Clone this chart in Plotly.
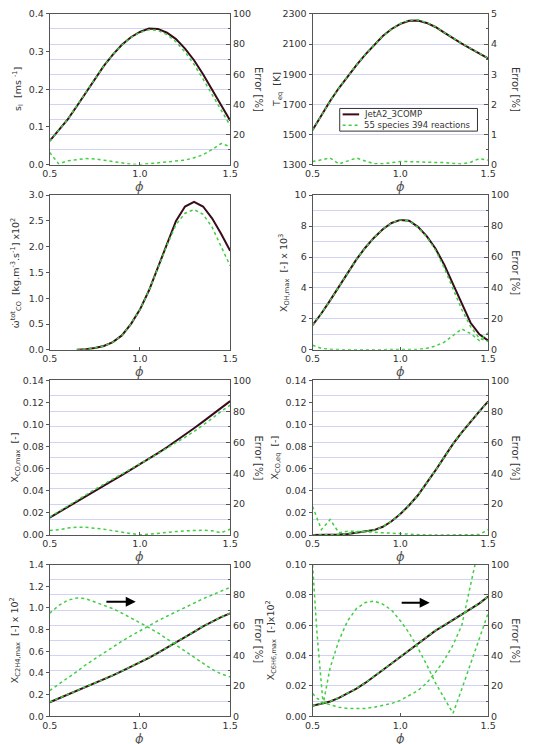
import plotly.graph_objects as go

# ---------------- data ----------------
phi = [0.50, 0.55, 0.60, 0.65, 0.70, 0.75, 0.80, 0.85, 0.90, 0.95, 1.00,
       1.05, 1.10, 1.15, 1.20, 1.25, 1.30, 1.35, 1.40, 1.45, 1.50]

# panel 1: laminar flame speed
sl_ref = [0.063, 0.090, 0.120, 0.155, 0.190, 0.228, 0.262, 0.292, 0.318, 0.338, 0.352,
          0.361, 0.360, 0.350, 0.333, 0.308, 0.277, 0.240, 0.200, 0.158, 0.117]
sl_red = [0.062, 0.090, 0.120, 0.156, 0.191, 0.228, 0.262, 0.292, 0.317, 0.337, 0.351,
          0.358, 0.356, 0.345, 0.326, 0.299, 0.266, 0.227, 0.186, 0.143, 0.104]
sl_err = [8.0, 0.5, 2.5, 3.5, 4.0, 3.8, 3.0, 2.0, 1.0, 0.3, 0.0,
          0.5, 1.0, 1.5, 2.0, 3.0, 4.5, 6.5, 10.0, 14.0, 12.0]

# panel 2: equilibrium temperature
teq_ref = [1529, 1628, 1722, 1808, 1887, 1960, 2030, 2095, 2153, 2200, 2234,
           2254, 2256, 2240, 2213, 2176, 2138, 2103, 2070, 2038, 2005]
teq_red = [1529, 1628, 1722, 1808, 1887, 1960, 2030, 2095, 2153, 2201, 2236,
           2258, 2260, 2243, 2214, 2177, 2139, 2104, 2071, 2039, 2006]
teq_err = [0.10, 0.15, 0.22, 0.02, 0.12, 0.22, 0.12, 0.03, 0.03, 0.06, 0.10,
           0.10, 0.10, 0.08, 0.07, 0.07, 0.04, 0.02, 0.08, 0.20, 0.15]

# panel 3: CO source term
wco_ref = [None, None, None, 0.0, 0.01, 0.035, 0.075, 0.15, 0.28, 0.50, 0.78,
           1.15, 1.60, 2.05, 2.50, 2.78, 2.87, 2.78, 2.55, 2.25, 1.92]
wco_red = [None, None, None, 0.0, 0.01, 0.035, 0.075, 0.15, 0.28, 0.50, 0.78,
           1.15, 1.60, 2.03, 2.43, 2.65, 2.72, 2.63, 2.38, 2.02, 1.63]

# panel 4: OH max
oh_ref = [1.60, 2.35, 3.20, 4.10, 5.00, 5.85, 6.60, 7.25, 7.80, 8.20, 8.40,
          8.35, 7.95, 7.35, 6.55, 5.50, 4.25, 2.95, 1.75, 1.00, 0.60]
oh_red = [1.60, 2.35, 3.20, 4.10, 5.00, 5.85, 6.60, 7.25, 7.80, 8.20, 8.40,
          8.33, 7.92, 7.30, 6.45, 5.30, 3.95, 2.60, 1.50, 0.75, 0.55]
oh_err = [3.0, 1.0, 0.3, 0.0, 0.0, 0.0, 0.0, 0.0, 0.0, 0.0, 0.0,
          0.0, 0.3, 1.0, 2.5, 5.0, 9.0, 13.5, 10.5, 6.0, 11.0]

# panel 5: CO max
comax_ref = [0.0158, 0.0205, 0.0253, 0.0302, 0.0350, 0.0398, 0.0447, 0.0494, 0.0542, 0.0590, 0.0640,
             0.0690, 0.0742, 0.0795, 0.0850, 0.0908, 0.0967, 0.1027, 0.1088, 0.1150, 0.1212]
comax_red = [0.0163, 0.0214, 0.0265, 0.0315, 0.0365, 0.0413, 0.0460, 0.0505, 0.0552, 0.0595, 0.0640,
             0.0688, 0.0737, 0.0788, 0.0835, 0.0885, 0.0938, 0.0995, 0.1055, 0.1120, 0.1175]
comax_err = [3.0, 3.5, 4.5, 5.0, 5.0, 4.6, 3.8, 2.8, 1.8, 0.8, 0.1,
             0.5, 1.2, 1.8, 2.3, 2.7, 3.0, 3.1, 2.8, 1.5, 3.8]

# panel 6: CO equilibrium
coeq_ref = [0.0, 0.0, 0.0002, 0.0005, 0.0010, 0.0020, 0.0030, 0.0045, 0.0075, 0.0125, 0.0190,
            0.0270, 0.0360, 0.0470, 0.0585, 0.0705, 0.0825, 0.0930, 0.1030, 0.1120, 0.1210]
coeq_red = [0.0, 0.0, 0.0002, 0.0005, 0.0010, 0.0020, 0.0030, 0.0045, 0.0075, 0.0125, 0.0190,
            0.0270, 0.0360, 0.0470, 0.0585, 0.0705, 0.0825, 0.0930, 0.1030, 0.1120, 0.1205]
coeq_err = [18.5, 3.5, 10.0, 1.5, 2.5, 2.5, 2.2, 1.8, 1.5, 1.2, 0.8,
            0.4, 0.1, 0.0, 0.0, 0.0, 0.0, 0.0, 0.0, 0.3, 3.5]

# panel 7: C2H4 max
c2h4_ref = [0.130, 0.165, 0.198, 0.232, 0.267, 0.303, 0.340, 0.378, 0.417, 0.457, 0.498,
            0.540, 0.585, 0.632, 0.680, 0.730, 0.780, 0.830, 0.875, 0.915, 0.950]
c2h4_red = [0.131, 0.166, 0.199, 0.233, 0.268, 0.304, 0.341, 0.379, 0.418, 0.458, 0.499,
            0.541, 0.586, 0.633, 0.681, 0.731, 0.781, 0.831, 0.876, 0.916, 0.951]
c2h4_err_a = [17.0, 21.0, 25.0, 29.5, 34.0, 38.0, 42.0, 46.0, 49.5, 53.0, 56.5,
              60.0, 63.0, 66.0, 69.0, 72.0, 75.0, 77.5, 80.0, 82.5, 85.0]
c2h4_err_b = [68.0, 73.0, 76.5, 78.0, 77.5, 75.5, 73.5, 71.0, 68.0, 65.0, 62.0,
              58.5, 55.0, 51.0, 47.0, 43.0, 39.0, 35.0, 31.0, 28.0, 26.0]

# panel 8: C6H6 max
c6h6_ref = [0.0070, 0.0083, 0.0098, 0.0122, 0.0150, 0.0183, 0.0220, 0.0260, 0.0305, 0.0348, 0.0392,
            0.0438, 0.0480, 0.0525, 0.0565, 0.0600, 0.0635, 0.0670, 0.0705, 0.0745, 0.0790]
c6h6_red = [0.0071, 0.0084, 0.0099, 0.0123, 0.0151, 0.0184, 0.0221, 0.0261, 0.0306, 0.0349, 0.0393,
            0.0439, 0.0481, 0.0526, 0.0566, 0.0601, 0.0636, 0.0671, 0.0706, 0.0746, 0.0791]
phi_c6h6_err = [0.50, 0.525, 0.56, 0.60, 0.65, 0.70, 0.75, 0.80, 0.85, 0.90, 0.95, 1.00,
                1.05, 1.10, 1.15, 1.20, 1.25, 1.30, 1.35, 1.40, 1.45, 1.50]
c6h6_err_a = [100.0, 55.0, 8.0, 32.0, 50.0, 63.0, 71.0, 75.0, 76.0, 74.0, 70.0, 63.0,
              55.0, 45.0, 34.0, 22.0, 12.0, 2.0, 18.0, 35.0, 52.0, 68.0]
c6h6_err_b = [15.0, 12.0, 9.0, 7.5, 6.0, 5.2, 5.0, 5.2, 6.0, 7.0, 8.5, 10.5,
              13.5, 17.0, 22.0, 29.0, 37.0, 47.0, 60.0, 86.0, 112.0, 140.0]

legend_labels = ["JetA2_3COMP", "55 species 394 reactions"]

# ---------------- styling / layout ----------------
W, H = 533, 744
FONT = "DejaVu Sans"
DARK = "#3a0b1b"
GREEN = "#3fcf3f"
GRID = "#d2d2f2"
AXC = "#555555"
TXT = "#333333"

COLS = [(43, 229), (314, 495)]
ROWS = [(8, 161), (192, 349), (380, 537), (567, 721)]


def xdom(c):
    a, b = COLS[c]
    return [a / W, b / W]


def ydom(r):
    t, b = ROWS[r]
    return [1 - b / H, 1 - t / H]


def px(xp):
    return xp / W


def py(yp):
    return 1 - yp / H


panels = [
    dict(r=0, c=0, yr=[0, 0.4], dt=0.1, t0=0, fmt=".1f", right=[0, 100], rdt=20, rminor=10,
         title="s<sub>l</sub>  [ms <sup>-1</sup>]", tx=11,
         ref=(phi, sl_ref), red=[(phi, sl_red)], err=[(phi, sl_err)]),
    dict(r=0, c=1, yr=[1300, 2300], dt=200, t0=1300, fmt="d", right=[0, 5], rdt=1, rminor=0.5,
         title="T<sub>eq</sub>  [K]", tx=278,
         ref=(phi, teq_ref), red=[(phi, teq_red)], err=[(phi, teq_err)]),
    dict(r=1, c=0, yr=[0, 3.0], dt=0.5, t0=0, fmt=".1f", right=None,
         title="ω̇<sup>tot</sup><sub>CO</sub>  [kg.m<sup>-3</sup>.s<sup>-1</sup>] x10<sup>2</sup>", tx=8,
         ref=(phi, wco_ref), red=[(phi, wco_red)], err=[]),
    dict(r=1, c=1, yr=[0, 10], dt=2, t0=0, fmt="d", right=[0, 100], rdt=20, rminor=10,
         title="X<sub>OH,max</sub>  [-] x 10<sup>3</sup>", tx=284,
         ref=(phi, oh_ref), red=[(phi, oh_red)], err=[(phi, oh_err)]),
    dict(r=2, c=0, yr=[0, 0.14], dt=0.02, t0=0, fmt=".2f", right=[0, 100], rdt=20, rminor=10,
         title="X<sub>CO,max</sub>  [-]", tx=8,
         ref=(phi, comax_ref), red=[(phi, comax_red)], err=[(phi, comax_err)]),
    dict(r=2, c=1, yr=[0, 0.14], dt=0.02, t0=0, fmt=".2f", right=[0, 100], rdt=20, rminor=10,
         title="X<sub>CO,eq</sub>  [-]", tx=276,
         ref=(phi, coeq_ref), red=[(phi, coeq_red)], err=[(phi, coeq_err)]),
    dict(r=3, c=0, yr=[0, 1.4], dt=0.2, t0=0, fmt=".1f", right=[0, 100], rdt=20, rminor=10,
         title="X<sub>C2H4,max</sub>  [-] x 10<sup>2</sup>", tx=8,
         ref=(phi, c2h4_ref), red=[(phi, c2h4_red)],
         err=[(phi, c2h4_err_a), (phi, c2h4_err_b)]),
    dict(r=3, c=1, yr=[0, 0.10], dt=0.02, t0=0, fmt=".2f", right=[0, 100], rdt=20, rminor=10,
         title="X<sub>C6H6,max</sub>  [-]x10<sup>2</sup>", tx=272,
         ref=(phi, c6h6_ref), red=[(phi, c6h6_red)],
         err=[(phi_c6h6_err, c6h6_err_a), (phi_c6h6_err, c6h6_err_b)]),
]

fig = go.Figure()
layout = {}
annotations = []
shapes = []

for i, p in enumerate(panels, start=1):
    xs = "" if i == 1 else str(i)
    xname, yname = "x" + xs, "y" + xs
    ry = 8 + i
    rname = "y" + str(ry)
    tick_font = dict(family=FONT, size=9.5, color=TXT)

    layout["xaxis" + xs] = dict(
        domain=xdom(p["c"]), anchor=yname, range=[0.5, 1.5],
        tickvals=[0.5, 1.0, 1.5], tickformat=".1f", ticks="inside", ticklen=3,
        tickcolor=AXC, showline=True, linecolor=AXC, linewidth=1, mirror=True,
        showgrid=False, zeroline=False, tickfont=tick_font, fixedrange=True,
    )
    layout["yaxis" + xs] = dict(
        domain=ydom(p["r"]), anchor=xname, range=p["yr"], tick0=p["t0"], dtick=p["dt"],
        tickformat=p["fmt"], ticks="outside", ticklen=3, tickcolor=AXC,
        showline=True, linecolor=AXC, linewidth=1, mirror=True,
        showgrid=False, zeroline=False, tickfont=tick_font, fixedrange=True,
    )

    mid_y = py((ROWS[p["r"]][0] + ROWS[p["r"]][1]) / 2)

    if p["right"] is not None:
        layout["yaxis" + str(ry)] = dict(
            overlaying=yname, anchor=xname, side="right", range=p["right"], dtick=p["rdt"],
            tick0=0, ticks="inside", ticklen=4, tickcolor=AXC, showline=True, linecolor=AXC,
            linewidth=1, showgrid=True, gridcolor=GRID, gridwidth=1, zeroline=False,
            tickfont=tick_font, fixedrange=True,
            minor=dict(dtick=p["rminor"], ticks="inside", ticklen=2, tickcolor=AXC,
                       showgrid=(p["rminor"] == 10), gridcolor=GRID, gridwidth=1),
        )
        for ex, ey in p["err"]:
            fig.add_trace(go.Scatter(x=ex, y=ey, xaxis=xname, yaxis=rname, mode="lines",
                                     line=dict(color=GREEN, width=1.5, dash="dot"),
                                     showlegend=False, hoverinfo="skip"))
        annotations.append(dict(
            text="Error [%]", xref="paper", yref="paper",
            x=px(258 if p["c"] == 0 else 523), y=mid_y,
            textangle=90, showarrow=False, xanchor="center", yanchor="middle",
            font=dict(family=FONT, size=10, color=TXT)))

    fig.add_trace(go.Scatter(x=p["ref"][0], y=p["ref"][1], xaxis=xname, yaxis=yname,
                             mode="lines", line=dict(color=DARK, width=2),
                             name=legend_labels[0], showlegend=False, hoverinfo="skip"))
    for rx, rv in p["red"]:
        fig.add_trace(go.Scatter(x=rx, y=rv, xaxis=xname, yaxis=yname, mode="lines",
                                 line=dict(color=GREEN, width=1.5, dash="dot"),
                                 name=legend_labels[1], showlegend=False,
                                 hoverinfo="skip"))

    # left axis title
    annotations.append(dict(
        text=p["title"], xref="paper", yref="paper", x=px(p["tx"]), y=mid_y,
        textangle=-90, showarrow=False, xanchor="center", yanchor="middle",
        font=dict(family=FONT, size=9.5, color=TXT)))
    # x-axis title
    annotations.append(dict(
        text="<i>ϕ</i>", xref="paper", yref="paper",
        x=px((COLS[p["c"]][0] + COLS[p["c"]][1]) / 2),
        y=py(ROWS[p["r"]][1] + 22),
        showarrow=False, xanchor="center", yanchor="middle",
        font=dict(family=FONT, size=13, color="#555555")))

# arrows pointing to the right-hand error axis
annotations.append(dict(x=0.977, y=1.058, ax=0.806, ay=1.058, xref="x7", yref="y7",
                        axref="x7", ayref="y7", text="", showarrow=True, arrowhead=2,
                        arrowsize=1, arrowwidth=2, arrowcolor="black"))
annotations.append(dict(x=1.167, y=0.0748, ax=0.999, ay=0.0748, xref="x8", yref="y8",
                        axref="x8", ayref="y8", text="", showarrow=True, arrowhead=2,
                        arrowsize=1, arrowwidth=2, arrowcolor="black"))

# compact legend box inside the T_eq panel
shapes.append(dict(type="rect", xref="paper", yref="paper", x0=px(342), x1=px(484),
                   y0=py(127), y1=py(104), line=dict(color="#333333", width=1),
                   fillcolor="white", layer="above"))
shapes.append(dict(type="line", xref="paper", yref="paper", x0=px(345), x1=px(362),
                   y0=py(110), y1=py(110), line=dict(color=DARK, width=2), layer="above"))
shapes.append(dict(type="line", xref="paper", yref="paper", x0=px(345), x1=px(362),
                   y0=py(121), y1=py(121), line=dict(color=GREEN, width=1.5, dash="dot"),
                   layer="above"))
for lbl, yy in zip(legend_labels, [110, 121]):
    annotations.append(dict(text=lbl, xref="paper", yref="paper", x=px(365), y=py(yy),
                            xanchor="left", yanchor="middle", showarrow=False,
                            font=dict(family=FONT, size=8.5, color=TXT)))

fig.update_layout(
    width=W, height=H, margin=dict(l=0, r=0, t=0, b=0),
    paper_bgcolor="white", plot_bgcolor="white",
    font=dict(family=FONT, size=10, color=TXT),
    showlegend=False,
    annotations=annotations,
    shapes=shapes,
    **layout,
)

fig.write_html("out.html")
